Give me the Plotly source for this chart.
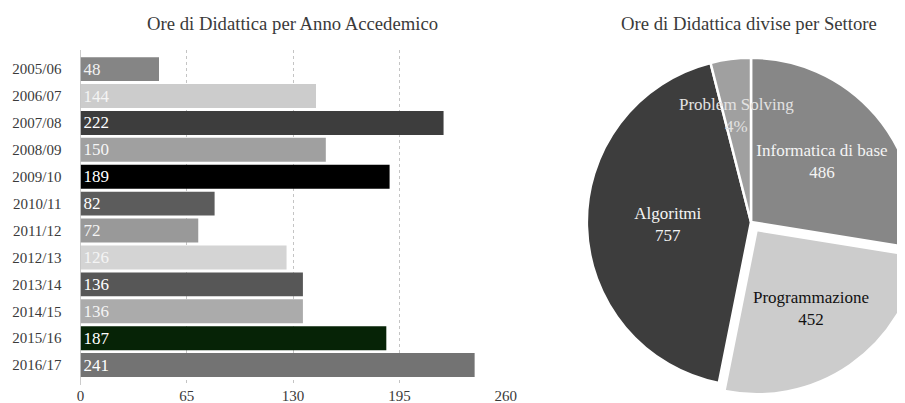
import plotly.graph_objects as go

# ---- data ----
years = ["2005/06", "2006/07", "2007/08", "2008/09", "2009/10", "2010/11",
         "2011/12", "2012/13", "2013/14", "2014/15", "2015/16", "2016/17"]
hours = [48, 144, 222, 150, 189, 82, 72, 126, 136, 136, 187, 241]
bar_colors = ["#858585", "#cccccc", "#3d3d3d", "#a0a0a0", "#000000", "#5c5c5c",
              "#999999", "#d4d4d4", "#575757", "#ababab", "#062306", "#737373"]
bar_text_colors = ["#f2f2f2", "#f4f4f4", "#ffffff", "#f6f6f6", "#ffffff", "#ffffff",
                   "#f4f4f4", "#f4f4f4", "#ffffff", "#f4f4f4", "#ffffff", "#ffffff"]
x_ticks = [0, 65, 130, 195, 260]

sectors = ["Informatica di base", "Programmazione", "Algoritmi", "Problem Solving"]
sector_hours = [486, 452, 757, 70]
sector_colors = ["#878787", "#cccccc", "#3d3d3d", "#a0a0a0"]
sector_text_colors = ["#f4f4f4", "#111111", "#f4f4f4", "#e2e2e2"]
sector_pull = [0, 0.06, 0, 0]

FONT = "Liberation Serif"
TXT = "#3a3a3a"

# page places the figure 8px in from the top-left corner; the figure is a bit
# wider than the window so the pie is cut at the right edge as in the original
W, H, OFF = 917, 403, 8


def px(x):
    return (x - OFF) / W


def py(y):
    return 1 - (y - OFF) / H


fig = go.Figure()

bar_font = dict(family=FONT, size=17, color=bar_text_colors)
fig.add_trace(go.Bar(
    y=years, x=hours, orientation="h",
    marker=dict(color=bar_colors, line=dict(width=0)),
    text=[str(v) for v in hours], textposition="inside", insidetextanchor="start",
    textfont=bar_font, insidetextfont=bar_font, constraintext="none",
    textangle=0, cliponaxis=False, hoverinfo="x+y",
))

total = sum(sector_hours)
templates = ["%{label}<br>%{value}"] * 3 + [""]
pie_font = dict(family=FONT, size=17, color=sector_text_colors)
fig.add_trace(go.Pie(
    labels=sectors, values=sector_hours, sort=False, direction="clockwise",
    rotation=0, pull=sector_pull,
    marker=dict(colors=sector_colors, line=dict(color="#ffffff", width=2.5)),
    texttemplate=templates, textposition="inside", insidetextorientation="horizontal",
    textfont=pie_font, insidetextfont=pie_font,
    domain=dict(x=[px(577), 1.0], y=[py(396), py(48)]),
    showlegend=False,
))

ps_pct = round(100 * sector_hours[3] / total)
fig.add_annotation(text=f"{sectors[3]}<br>{ps_pct}%", x=px(736), y=py(116),
                   xref="paper", yref="paper", xanchor="center", yanchor="middle",
                   showarrow=False,
                   font=dict(family=FONT, size=17, color=sector_text_colors[3]))

fig.add_annotation(text="Ore di Didattica per Anno Accedemico", x=px(292), y=py(23),
                   xref="paper", yref="paper", xanchor="center", yanchor="middle",
                   showarrow=False,
                   font=dict(family=FONT, size=18.7, color=TXT))
fig.add_annotation(text="Ore di Didattica divise per Settore", x=px(749), y=py(23),
                   xref="paper", yref="paper", xanchor="center", yanchor="middle",
                   showarrow=False,
                   font=dict(family=FONT, size=18.7, color=TXT))

fig.add_shape(type="line", xref="x", x0=0, x1=0, yref="y domain", y0=0, y1=1,
              line=dict(color="#9a9a9a", width=1))

fig.update_layout(
    width=W, height=H,
    margin=dict(l=0, r=0, t=0, b=0),
    paper_bgcolor="white", plot_bgcolor="white",
    font=dict(family=FONT, color=TXT),
    bargap=0.11,
    showlegend=False,
    xaxis=dict(domain=[px(80.5), px(505.7)], range=[0, 260], tickvals=x_ticks,
               showgrid=True, gridcolor="#c4c4c4", griddash="dot", gridwidth=1,
               zeroline=False, showline=False, ticks="", automargin=False,
               tickfont=dict(family=FONT, size=15, color=TXT)),
    yaxis=dict(domain=[py(385), py(50)], range=[11.74, -0.71],
               type="category", showgrid=False, zeroline=False, showline=False, ticks="",
               ticklabelstandoff=18, automargin=False,
               tickfont=dict(family=FONT, size=15, color=TXT)),
)

fig.write_html("out.html")
